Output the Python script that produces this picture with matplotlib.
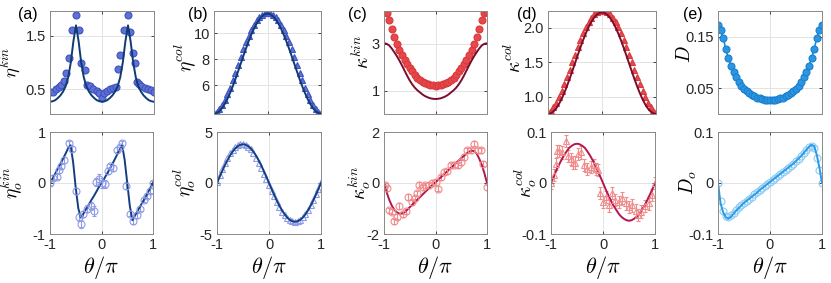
import numpy as np
import matplotlib
matplotlib.use("Agg")
import matplotlib.pyplot as plt

plt.rcParams['font.family'] = ['Liberation Sans', 'DejaVu Sans']
plt.rcParams['mathtext.fontset'] = 'cm'
plt.rcParams['axes.unicode_minus'] = False

theta = np.linspace(-1, 1, 41)

# ---- top row ----
a_top_line = [0.26,0.27,0.29,0.33,0.38,0.45,0.55,0.72,1.00,1.40,1.70,1.40,1.00,0.72,0.55,0.45,0.38,0.33,0.29,0.27,0.26,
              0.27,0.29,0.33,0.38,0.45,0.55,0.72,1.00,1.40,1.70,1.40,1.00,0.72,0.55,0.45,0.38,0.33,0.29,0.27,0.26]
a_top_mx = [-1,-0.94,-0.88,-0.83,-0.79,-0.74,-0.69,-0.64,-0.58,-0.5,-0.44,-0.4,-0.33,-0.28,-0.23,-0.17,-0.1,-0.05,0,
            0.04,0.09,0.15,0.22,0.27,0.31,0.35,0.43,0.5,0.54,0.59,0.63,0.67,0.71,0.75,0.82,0.89,0.95,1.0]
a_top_my = [0.45,0.45,0.5,0.53,0.58,0.65,0.8,1.08,1.62,1.9,1.62,1.0,0.86,0.58,0.55,0.5,0.46,0.43,0.33,
            0.43,0.46,0.5,0.52,0.53,0.87,1.15,1.62,1.9,1.57,1.18,1.0,0.64,0.6,0.55,0.52,0.5,0.48,0.45]

b_top_line = [3.80,3.85,3.99,4.22,4.54,4.93,5.39,5.90,6.46,7.05,7.65,8.25,8.84,9.40,9.91,10.37,10.76,11.08,11.31,11.45,11.50,
              11.45,11.31,11.08,10.76,10.37,9.91,9.40,8.84,8.25,7.65,7.05,6.46,5.90,5.39,4.93,4.54,4.22,3.99,3.85,3.80]
b_top_pts = [3.85,3.95,4.15,4.45,4.85,5.30,5.80,6.35,6.95,7.55,8.15,8.75,9.30,9.80,10.25,10.65,11.00,11.25,11.42,11.52,11.55,
             11.52,11.42,11.25,11.00,10.65,10.25,9.80,9.30,8.75,8.15,7.55,6.95,6.35,5.80,5.30,4.85,4.45,4.15,3.95,3.85]

c_top_line = [3.02,3.00,2.93,2.80,2.64,2.47,2.28,2.07,1.85,1.63,1.43,1.26,1.12,1.01,0.92,0.83,0.76,0.71,0.67,0.65,0.64,
              0.65,0.67,0.71,0.76,0.83,0.92,1.01,1.12,1.26,1.43,1.63,1.85,2.07,2.28,2.47,2.64,2.80,2.93,3.00,3.02]
c_top_pts = [4.37,4.30,4.00,3.62,3.30,3.00,2.75,2.50,2.30,2.12,1.98,1.82,1.68,1.55,1.45,1.37,1.31,1.27,1.24,1.22,1.21,
             1.22,1.24,1.27,1.31,1.37,1.45,1.55,1.68,1.82,1.98,2.12,2.30,2.50,2.75,3.00,3.30,3.62,4.00,4.30,4.37]

d_top_line = [0.750,0.759,0.786,0.830,0.890,0.965,1.053,1.151,1.258,1.370,1.485,1.600,1.712,1.819,1.917,2.005,2.080,2.140,2.184,2.211,2.220,
              2.211,2.184,2.140,2.080,2.005,1.917,1.819,1.712,1.600,1.485,1.370,1.258,1.151,1.053,0.965,0.890,0.830,0.786,0.759,0.750]
d_top_pts = [0.78,0.80,0.85,0.91,0.99,1.08,1.18,1.28,1.39,1.50,1.61,1.72,1.82,1.92,2.01,2.08,2.14,2.19,2.22,2.24,2.24,
             2.24,2.22,2.19,2.14,2.08,2.01,1.92,1.82,1.72,1.61,1.50,1.39,1.28,1.18,1.08,0.99,0.91,0.85,0.80,0.78]

e_top = [0.172,0.163,0.148,0.126,0.108,0.094,0.081,0.071,0.062,0.055,0.049,0.044,0.040,0.037,0.034,0.032,0.031,0.029,0.028,0.027,0.027,
         0.027,0.028,0.029,0.031,0.032,0.034,0.037,0.040,0.044,0.049,0.055,0.062,0.071,0.081,0.094,0.108,0.126,0.148,0.163,0.172]

# ---- bottom row ----
a_bot_line = [0,0.09,0.18,0.28,0.37,0.47,0.57,0.68,0.74,0.40,-0.10,-0.50,-0.68,-0.60,-0.51,-0.43,-0.34,-0.26,-0.17,-0.08,0.0,
              0.08,0.17,0.26,0.35,0.45,0.55,0.65,0.75,0.45,0.0,-0.45,-0.73,-0.64,-0.55,-0.46,-0.37,-0.28,-0.19,-0.09,0.0]
a_bot_mx = [-1,-0.94,-0.87,-0.83,-0.78,-0.72,-0.63,-0.57,-0.5,-0.44,-0.4,-0.36,-0.28,-0.21,-0.15,-0.11,-0.05,0.01,0.06,0.12,
            0.17,0.23,0.3,0.35,0.4,0.48,0.55,0.62,0.68,0.75,0.83,0.88,0.94,1.0]
a_bot_my = [0,0.1,0.12,0.25,0.33,0.45,0.78,0.67,-0.15,-0.67,-0.8,-0.6,-0.5,-0.45,-0.55,0.02,0.08,0,-0.02,0.23,
            0.33,0.3,0.65,0.7,0.78,-0.05,-0.6,-0.75,-0.63,-0.5,-0.33,-0.25,-0.15,0]
a_bot_err = [0.03,0.05,0.05,0.05,0.05,0.06,0.05,0.05,0.06,0.08,0.08,0.06,0.06,0.08,0.1,0.08,0.1,0.1,0.08,0.06,
             0.05,0.06,0.05,0.05,0.05,0.06,0.05,0.06,0.05,0.05,0.05,0.05,0.05,0.03]

b_bot_line = [0,0.59,1.17,1.73,2.23,2.69,3.07,3.39,3.61,3.75,3.80,3.75,3.61,3.39,3.07,2.69,2.23,1.73,1.17,0.59,0,
              -0.59,-1.17,-1.73,-2.23,-2.69,-3.07,-3.39,-3.61,-3.75,-3.80,-3.75,-3.61,-3.39,-3.07,-2.69,-2.23,-1.73,-1.17,-0.59,0]
b_bot_pts = [0.1,0.8,1.4,1.95,2.45,2.9,3.25,3.5,3.7,3.8,3.82,3.72,3.55,3.3,2.95,2.5,2.0,1.45,0.9,0.35,-0.2,
             -0.75,-1.3,-1.85,-2.35,-2.8,-3.15,-3.45,-3.65,-3.75,-3.8,-3.75,-3.6,-3.35,-3.05,-2.65,-2.2,-1.7,-1.1,-0.55,0.05]

c_bot_line = [0,-0.35,-0.65,-0.88,-1.05,-1.15,-1.20,-1.20,-1.15,-1.05,-0.95,-0.85,-0.75,-0.65,-0.55,-0.45,-0.35,-0.25,-0.15,-0.06,0.03,
              0.12,0.22,0.31,0.41,0.50,0.60,0.69,0.79,0.88,0.97,1.06,1.15,1.22,1.27,1.25,1.15,0.95,0.70,0.38,0]
c_bot_mx = [-0.98,-0.94,-0.91,-0.85,-0.8,-0.75,-0.7,-0.64,-0.58,-0.53,-0.46,-0.4,-0.36,-0.32,-0.25,-0.2,-0.13,-0.06,0.0,0.05,
            0.1,0.17,0.23,0.3,0.36,0.43,0.49,0.56,0.62,0.69,0.75,0.82,0.88,0.93,1.0]
c_bot_my = [-0.09,-0.2,-1.07,-1.13,-1.5,-1.33,-0.9,-1.23,-1.1,-0.55,-0.75,-0.6,-0.4,-0.06,-0.16,-0.09,-0.09,0,0.04,-0.22,
            0.23,0.43,0.46,0.7,0.72,0.7,0.82,1.02,1.28,1.28,1.54,1.28,1.28,0.76,-0.16]

d_bot_line = [0,0.012,0.024,0.035,0.045,0.054,0.062,0.069,0.073,0.076,0.077,0.076,0.073,0.069,0.062,0.054,0.045,0.035,0.024,0.012,0,
              -0.012,-0.023,-0.034,-0.044,-0.052,-0.060,-0.066,-0.070,-0.073,-0.074,-0.073,-0.070,-0.066,-0.060,-0.052,-0.044,-0.034,-0.023,-0.012,0]
d_bot_mx = [-1,-0.94,-0.91,-0.88,-0.84,-0.78,-0.72,-0.67,-0.62,-0.58,-0.53,-0.49,-0.43,-0.37,-0.3,-0.24,-0.18,-0.14,-0.1,-0.05,
            0.0,0.05,0.12,0.18,0.23,0.31,0.37,0.44,0.5,0.56,0.63,0.67,0.74,0.8,0.88,0.95,1.0]
d_bot_my = [0,0.015,0.038,0.063,0.063,0.06,0.083,0.053,0.047,0.04,0.04,0.057,0.06,0.035,0.028,0.031,0.035,0.028,0.025,-0.02,
            -0.037,-0.027,-0.044,-0.02,-0.034,-0.037,-0.03,-0.04,-0.047,-0.044,-0.054,-0.063,-0.056,-0.045,-0.04,-0.024,0.0]

e_bot_line = [0,-0.040,-0.058,-0.067,-0.070,-0.066,-0.060,-0.054,-0.049,-0.044,-0.039,-0.035,-0.031,-0.027,-0.023,-0.019,-0.014,-0.010,-0.006,-0.002,0.002,
              0.006,0.010,0.014,0.018,0.022,0.026,0.030,0.034,0.038,0.043,0.048,0.053,0.059,0.065,0.071,0.075,0.072,0.055,0.030,0]
e_bot_pts = [0,-0.035,-0.055,-0.065,-0.066,-0.063,-0.058,-0.053,-0.048,-0.043,-0.039,-0.035,-0.031,-0.027,-0.022,-0.018,-0.014,-0.010,-0.006,-0.002,0.001,
             0.005,0.009,0.013,0.018,0.022,0.026,0.030,0.034,0.038,0.043,0.048,0.053,0.058,0.064,0.070,0.073,0.068,0.050,0.025,0]

# colours
blue_fill, blue_edge, blue_line = '#5f71d3', '#3f52c2', '#0f3b74'
blue_light, blue_line2 = '#8e9be6', '#133f80'
red_fill, red_edge, red_line = '#e8484b', '#d83a3c', '#7a0c2e'
red_light, red_line2 = '#f08c8c', '#b3164f'
sky_fill, sky_edge, sky_line = '#2d96e0', '#1a80d0', '#1a8ae0'
sky_light, sky_line2 = '#8ccbf2', '#2a9ae6'

fig = plt.figure(figsize=(8.31, 2.83), dpi=100)
W = 831.0
H = 283.0
lefts_top = [50, 214, 384, 548, 718]
widths_top = [104, 107, 103, 108, 104]
lefts_bot = [50, 217, 384, 551, 718]
widths_bot = [103, 104, 103, 104, 104]

axes_top = [fig.add_axes([l / W, 1 - 114 / H, w / W, 103 / H]) for l, w in zip(lefts_top, widths_top)]
axes_bot = [fig.add_axes([l / W, 1 - 234 / H, w / W, 102 / H]) for l, w in zip(lefts_bot, widths_bot)]

LFS = 14


def style(ax, ylim, yticks, ylabels=None, bottom=False):
    ax.set_xlim(-1, 1)
    ax.set_ylim(*ylim)
    ax.set_xticks([-1, 0, 1])
    ax.set_yticks(yticks)
    if ylabels is not None:
        ax.set_yticklabels(ylabels)
    if bottom:
        ax.set_xticklabels(['-1', '0', '1'])
        ax.set_xlabel(r'$\theta/\pi$', fontsize=16, labelpad=1)
    else:
        ax.set_xticklabels([])
    ax.grid(True, color='#e3e3e3', linewidth=0.7)
    ax.set_axisbelow(True)
    ax.tick_params(direction='in', length=2.5, width=0.6, labelsize=10.5,
                   colors='#262626', pad=3, top=True, right=True)
    for s in ax.spines.values():
        s.set_color('#8a8a8a')
        s.set_linewidth(0.7)


mk = dict(linestyle='none', markersize=5, markeredgewidth=0.8)

# (a)
ax = axes_top[0]
ax.plot(a_top_mx, a_top_my, 'o', mfc=blue_fill, mec=blue_edge, **mk)
ax.plot(theta, a_top_line, color=blue_line, lw=1.4)
style(ax, (0.03, 1.97), [0.5, 1.5])
ax.set_ylabel(r'$\eta^{kin}$', fontsize=13.5)
ax.yaxis.set_label_coords(-0.26, 0.5)

# (b)
ax = axes_top[1]
ax.plot(theta, b_top_pts, '^', mfc=blue_fill, mec=blue_edge, **mk)
ax.plot(theta, b_top_line, color=blue_line, lw=1.4)
style(ax, (3.77, 11.7), [6, 8, 10])
ax.set_ylabel(r'$\eta^{col}$', fontsize=LFS)
ax.yaxis.set_label_coords(-0.15, 0.55)

# (c)
ax = axes_top[2]
ax.plot(theta, c_top_pts, 'o', mfc=red_fill, mec=red_edge, **mk)
ax.plot(theta, c_top_line, color=red_line, lw=1.4)
style(ax, (0.0, 4.4), [1, 3])
ax.set_ylabel(r'$\kappa^{kin}$', fontsize=LFS)
ax.yaxis.set_label_coords(-0.11, 0.6)

# (d)
ax = axes_top[3]
ax.plot(theta, d_top_pts, '^', mfc=red_fill, mec=red_edge, **mk)
ax.plot(theta, d_top_line, color=red_line, lw=1.4)
style(ax, (0.75, 2.24), [1, 1.5, 2])
ax.set_ylabel(r'$\kappa^{col}$', fontsize=LFS)
ax.yaxis.set_label_coords(-0.21, 0.55)

# (e)
ax = axes_top[4]
ax.plot(theta, e_top, '-o', color=sky_line, lw=1.2, mfc=sky_fill, mec=sky_edge, markersize=5, markeredgewidth=0.8)
style(ax, (0.0, 0.2), [0.05, 0.15])
ax.set_ylabel(r'$D$', fontsize=LFS)
ax.yaxis.set_label_coords(-0.23, 0.58)

# bottom (a)
ax = axes_bot[0]
ax.errorbar(a_bot_mx, a_bot_my, yerr=a_bot_err, fmt='o', mfc='none', mec=blue_light, ecolor=blue_light,
            elinewidth=0.8, capsize=1.5, markersize=5, markeredgewidth=0.8)
ax.plot(theta, a_bot_line, color=blue_line2, lw=1.4)
style(ax, (-1, 1), [-1, 0, 1], bottom=True)
ax.set_ylabel(r'$\eta_o^{kin}$', fontsize=LFS)
ax.yaxis.set_label_coords(-0.24, 0.5)

# bottom (b)
ax = axes_bot[1]
ax.plot(theta, b_bot_pts, '^', mfc='none', mec=blue_light, **mk)
ax.plot(theta, b_bot_line, color=blue_line2, lw=1.4)
style(ax, (-5, 5), [-5, 0, 5], bottom=True)
ax.set_ylabel(r'$\eta_o^{col}$', fontsize=LFS)
ax.yaxis.set_label_coords(-0.18, 0.5)

# bottom (c)
ax = axes_bot[2]
ax.errorbar(c_bot_mx, c_bot_my, yerr=0.1, fmt='o', mfc='none', mec=red_light, ecolor=red_light,
            elinewidth=0.8, capsize=1.5, markersize=5, markeredgewidth=0.8)
ax.plot(theta, c_bot_line, color=red_line2, lw=1.4)
style(ax, (-2, 2), [-2, 0, 2], bottom=True)
ax.set_ylabel(r'$\kappa_o^{kin}$', fontsize=LFS)
ax.yaxis.set_label_coords(-0.11, 0.5)

# bottom (d)
ax = axes_bot[3]
ax.errorbar(d_bot_mx, d_bot_my, yerr=0.012, fmt='^', mfc='none', mec=red_light, ecolor=red_light,
            elinewidth=0.8, capsize=1.5, markersize=5, markeredgewidth=0.8)
ax.plot(theta, d_bot_line, color=red_line2, lw=1.4)
style(ax, (-0.1, 0.1), [-0.1, 0, 0.1], ['-0.1', '0', '0.1'], bottom=True)
ax.set_ylabel(r'$\kappa_o^{col}$', fontsize=LFS)
ax.yaxis.set_label_coords(-0.115, 0.5)

# bottom (e)
ax = axes_bot[4]
ax.plot(theta, e_bot_pts, 'o', mfc='none', mec=sky_light, **mk)
ax.plot(theta, e_bot_line, color=sky_line2, lw=1.4)
style(ax, (-0.1, 0.1), [-0.1, 0, 0.1], ['-0.1', '0', '0.1'], bottom=True)
ax.set_ylabel(r'$D_o$', fontsize=LFS)
ax.yaxis.set_label_coords(-0.18, 0.5)

# panel letters
for ax, lab, x in zip(axes_top, ['(a)', '(b)', '(c)', '(d)', '(e)'], [-0.31, -0.24, -0.35, -0.29, -0.34]):
    ax.text(x, 0.97, lab, transform=ax.transAxes, fontsize=11.5, ha='left', va='center', color='black')

fig.savefig('out.png', dpi=100)
